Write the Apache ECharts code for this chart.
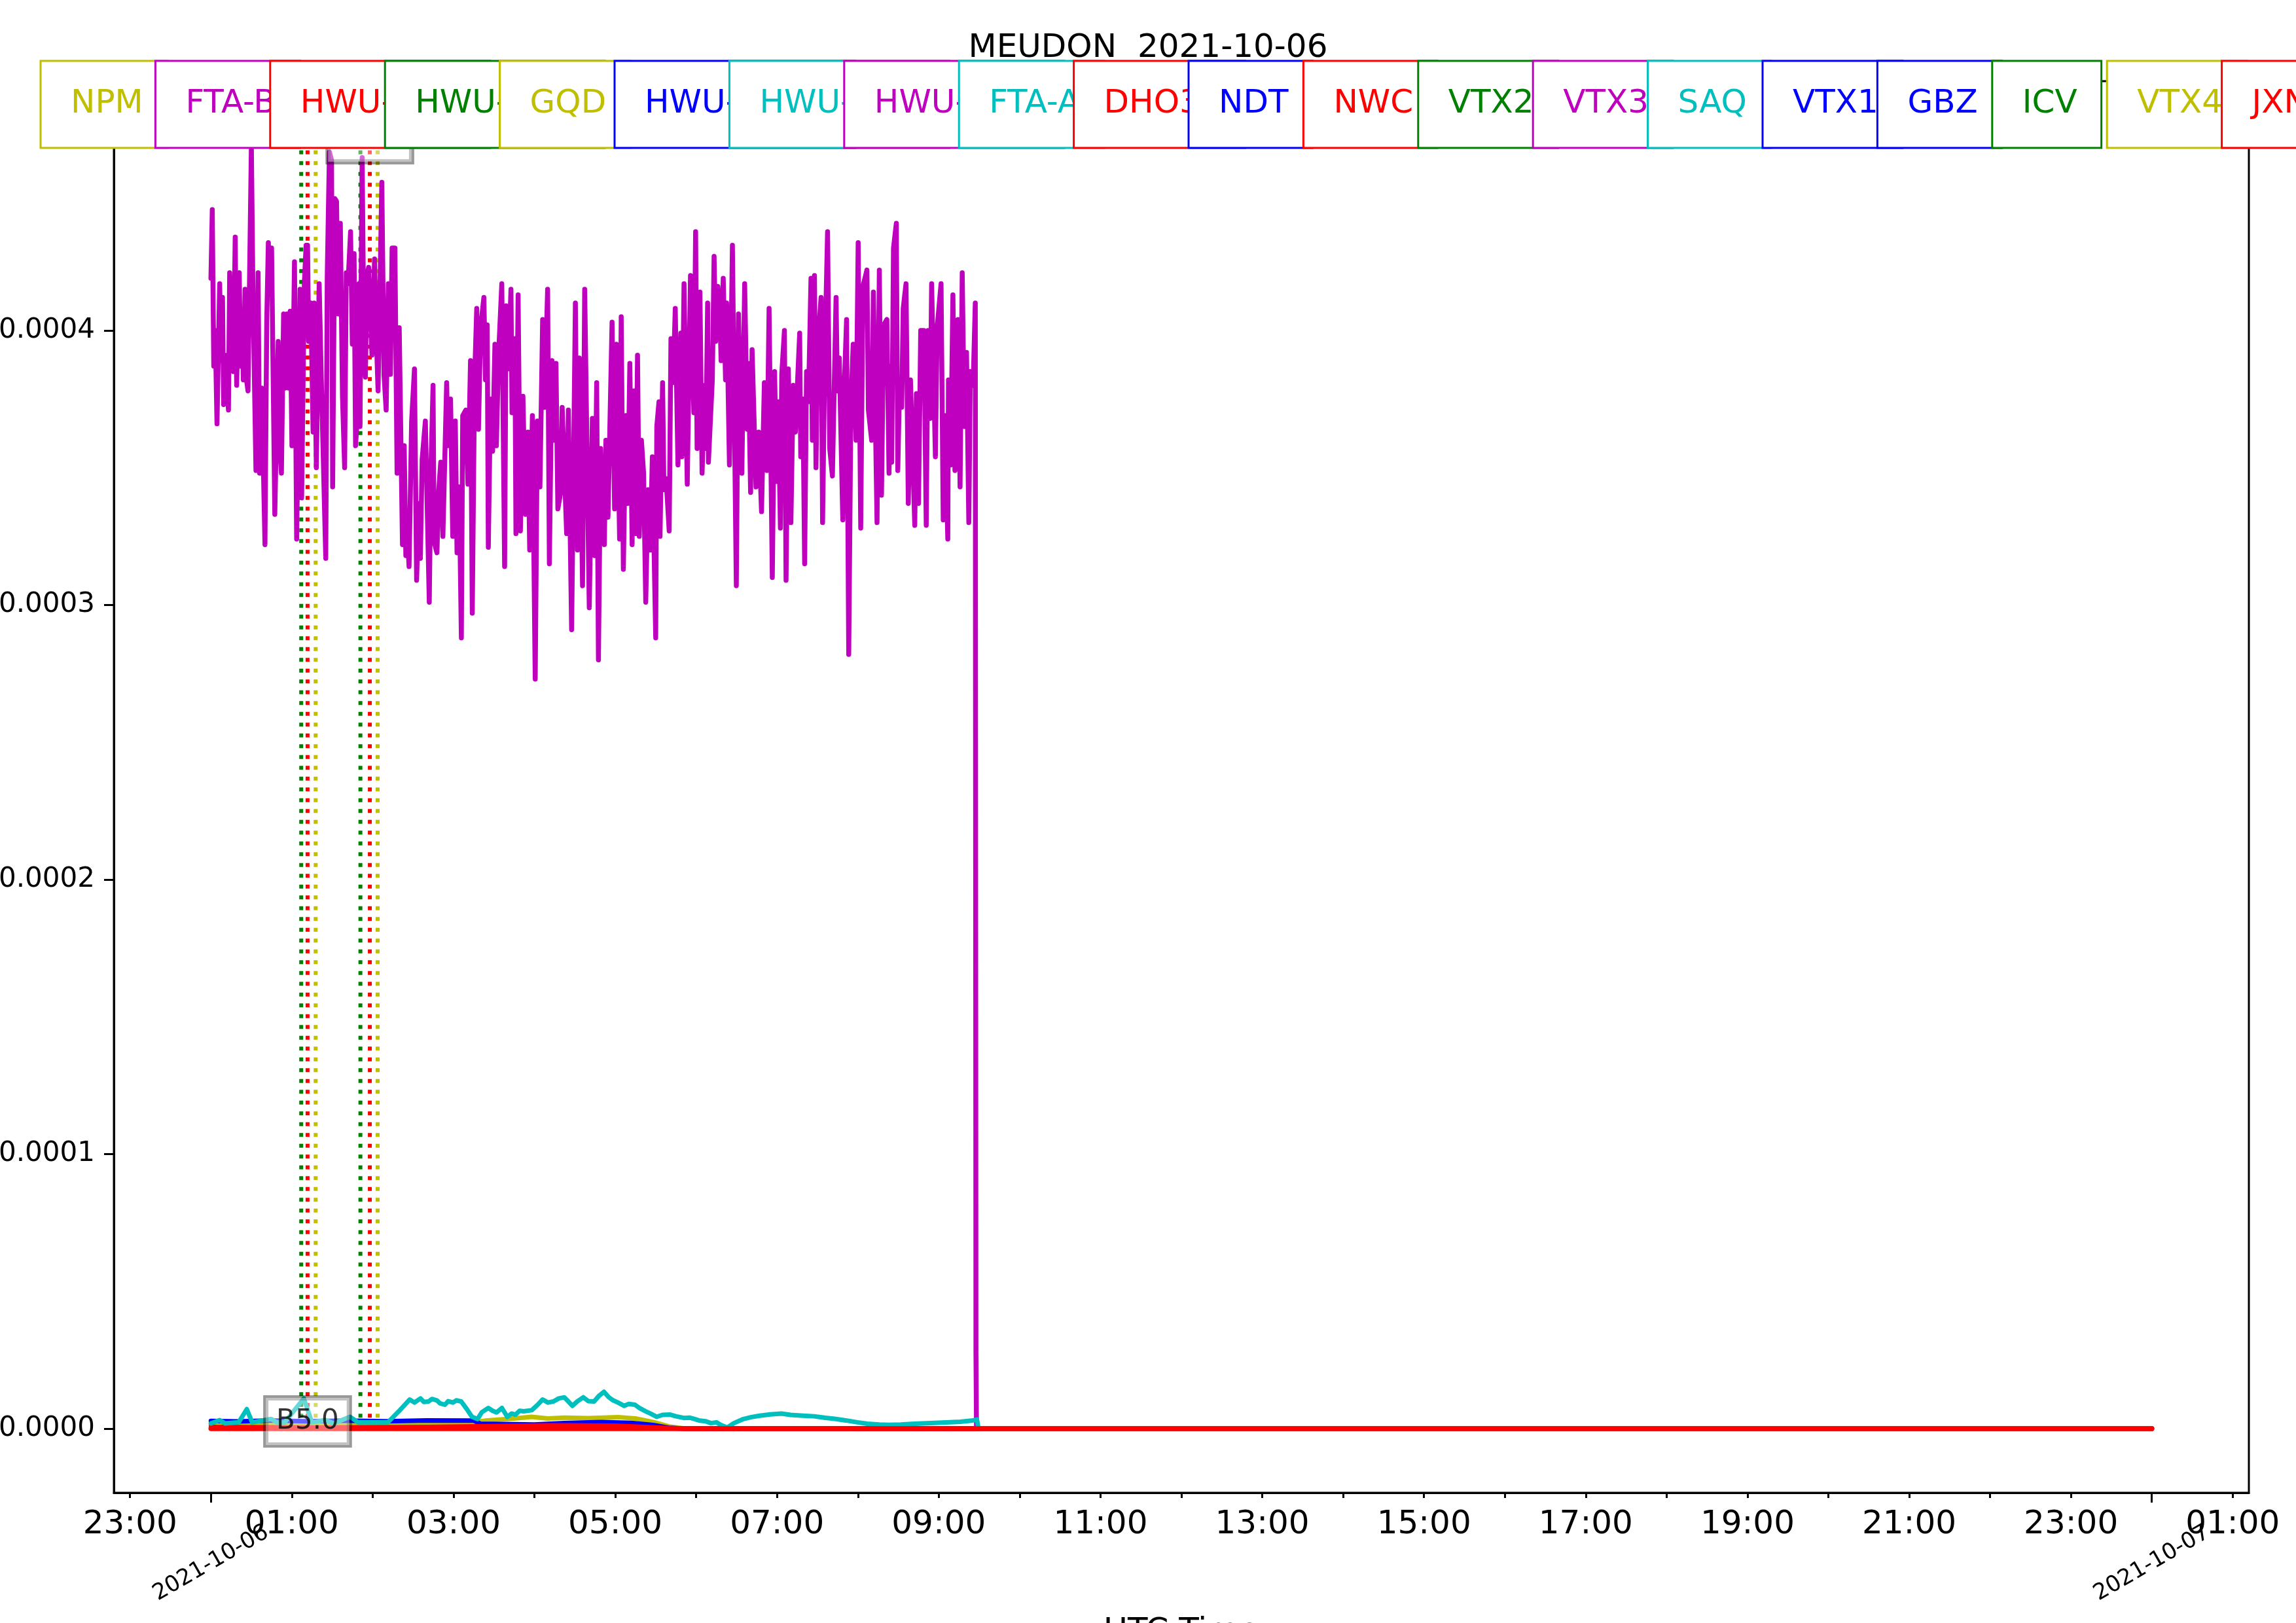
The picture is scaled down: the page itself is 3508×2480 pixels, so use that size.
<!DOCTYPE html>
<html><head><meta charset="utf-8">
<script src="https://cdn.jsdelivr.net/npm/echarts@6/dist/echarts.min.js"></script>
<style>html,body{margin:0;padding:0;background:#fff}#c{width:3508px;height:2480px}</style>
</head><body><div id="c"></div>
<script>
// ---------------- data (x in minutes after 2021-10-06 00:00 UTC, y in units of 1e-4) ----------------
const chartTitle = 'MEUDON  2021-10-06';
const stationNames = ['NPM','FTA-B','HWU-18.3','HWU-20.9','GQD','HWU-21.75','HWU-22.6','HWU-23.4','FTA-A','DHO38','NDT','NWC','VTX2','VTX3','SAQ','VTX1','GBZ','ICV','VTX4','JXN'];
const stationColors = ['#bfbf00','#bf00bf','#ff0000','#008000','#bfbf00','#0000ff','#00bfbf','#bf00bf','#00bfbf','#ff0000','#0000ff','#ff0000','#008000','#bf00bf','#00bfbf','#0000ff','#0000ff','#008000','#bfbf00','#ff0000'];

const minorTickMinutes = [-60,0,60,120,180,240,300,360,420,480,540,600,660,720,780,840,900,960,1020,1080,1140,1200,1260,1320,1380,1440,1500];
const hourLabelMinutes = [-60,60,180,300,420,540,660,780,900,1020,1140,1260,1380,1500];
const dayTickMinutes = [0,1440];
const dayLabels = ['2021-10-06','2021-10-07'];
const yTickValues = [0,1,2,3,4];

const flareStart = [67.0,110.9];
const flarePeak  = [71.7,117.9];
const flareEnd   = [77.7,123.7];
const flareClasses = ['B5.0','B5.4'];
const flareLabelY = [0.026,4.70];

const ftaB = [[0,4.19],[1,4.44],[2.1,3.87],[3.2,4.00],[4.5,3.66],[6.5,4.17],[7.4,3.89],[8.6,4.12],[9.4,3.73],[10.7,3.91],[11.5,3.83],[13,3.71],[13.9,4.21],[15.1,3.89],[15.9,4.19],[16.7,3.85],[18,4.34],[19.1,3.80],[21,4.21],[22,3.87],[23.2,4.02],[24,3.82],[25.3,4.15],[26.4,3.82],[27.5,3.78],[30,4.67],[31.2,4.13],[33.4,3.49],[35,4.21],[36.1,3.48],[37.7,3.79],[40.1,3.22],[41.4,4.03],[42.6,4.32],[43.7,4.16],[45,4.30],[47.4,3.33],[49.9,3.96],[51.2,3.56],[52.3,3.48],[53.9,4.06],[55,3.79],[56.3,4.06],[57.5,3.79],[58.8,4.07],[60.1,3.58],[62,4.25],[63.6,3.24],[66.1,4.15],[67.3,3.39],[69.3,4.17],[70.6,4.31],[71.7,4.31],[72.5,3.96],[74.1,4.10],[75.8,3.63],[76.6,4.10],[78.2,3.50],[80.3,4.17],[81.9,3.82],[85.2,3.17],[86.3,4.20],[87.9,4.65],[89.5,4.62],[90.3,3.43],[92,4.48],[93.2,4.47],[94.4,4.06],[96,4.39],[97.6,3.76],[99.2,3.50],[100.4,4.21],[101.7,4.17],[103.6,4.36],[104.9,3.95],[106.2,4.28],[107.3,3.58],[108.5,3.67],[109.8,4.17],[110.6,3.65],[112.2,4.63],[113.3,4.06],[114.6,3.83],[115.8,4.20],[117,4.23],[119.5,3.91],[121.4,4.26],[122.7,3.98],[124,3.78],[125.1,4.06],[126.8,4.54],[128.4,3.84],[130,3.71],[131.6,4.17],[133.2,3.84],[134.4,4.30],[136.5,4.30],[138.1,3.48],[139.7,4.01],[142.1,3.22],
[143.4,3.58],[144.6,3.18],[145.4,3.29],[147,3.14],[148.9,3.67],[151,3.86],[152.6,3.09],[154.3,3.37],[155.4,3.17],[156.7,3.53],[159.1,3.67],[162,3.01],[163.2,3.49],[164.8,3.80],[165.6,3.23],[167.7,3.19],[168.9,3.41],[170.5,3.52],[172.1,3.25],[174.9,3.81],[175.8,3.58],[177.8,3.75],[179.4,3.25],[181.3,3.67],[182.6,3.19],[184.2,3.43],[185.8,2.88],[186.8,3.69],[189.1,3.71],[190.7,3.44],[192.6,3.89],[193.9,2.97],[195.6,3.82],[197.2,4.08],[198.5,3.64],[200.1,4.01],[202.5,4.12],[203.7,3.82],[205,4.02],[205.8,3.21],[207.4,3.75],[209,3.56],[210.7,3.95],[211.8,3.58],[213.4,3.91],[215.8,4.17],[217.9,3.14],[219,4.09],[220.7,3.86],[222.6,4.15],[223.4,3.70],[225.5,3.97],[226.3,3.26],[227.9,4.13],[229.6,3.27],[231.5,3.76],[233.3,3.33],[235.2,3.63],[236.5,3.20],[238.5,3.69],[240.6,2.73],[242.2,3.67],[244.1,3.43],[246.1,4.04],[247.4,3.72],[249.8,4.15],[251.1,3.15],[253,3.89],[254.2,3.60],[256,3.88],[257.4,3.35],[259.5,3.41],[260.6,3.72],[263.9,3.26],[265.2,3.71],[267.6,2.91],[270.4,4.10],[272,3.20],[273.3,3.90],[275.7,3.07],[277.3,4.15],[280.7,2.99],[283,3.68],[284.6,3.18],[286.2,3.81],[287.5,2.80],
[289.1,3.57],[290.3,3.27],[291.9,3.22],[293,3.60],[294.6,3.32],[297.6,4.03],[299.5,3.35],[300.8,3.95],[303.2,3.24],[304.4,4.05],[306,3.13],[307.8,3.69],[309.2,3.37],[310.8,3.88],[312.5,3.22],[313.8,3.78],[315,3.26],[316.5,3.91],[317.8,3.25],[319.4,3.60],[321,3.48],[322.6,3.01],[324.3,3.42],[325.9,3.20],[327.5,3.54],[330,2.88],[330.8,3.65],[332.4,3.74],[333.2,3.25],[335.1,3.81],[336.1,3.42],[337.7,3.46],[340,3.27],[341.3,3.97],[342.9,3.81],[344.5,4.08],[346.5,3.51],[348.6,3.99],[349.4,3.54],[351,4.17],[353.4,3.44],[355.8,4.20],[358.3,3.70],[359.6,4.36],[360.7,3.57],[362.8,4.14],[364.4,3.48],[366.4,3.80],[367.2,3.57],[368.5,4.10],[369.1,3.52],[372,3.82],[373.3,4.27],[374.5,3.96],[376.1,4.16],[377.7,4.05],[378.5,3.89],[380.1,4.19],[381.8,3.82],[382.6,4.10],[384.7,3.51],[386.9,4.31],[389.8,3.07],[391.4,4.06],[393.9,3.48],[396,4.17],[397.9,3.64],[398.7,3.88],[400.4,3.41],[401.5,3.93],[404.4,3.43],[406.4,3.63],[408.5,3.34],[410.6,3.81],[412.5,3.49],[414.1,4.08],[416.5,3.10],[418.2,3.85],[419.8,3.45],[420.9,3.74],[422.5,3.28],[423.5,3.84],[425.5,4.00],[426.7,3.09],[428.4,3.86],[430.3,3.30],[432,3.80],[433.6,3.63],
[436.8,3.99],[437.6,3.54],[439.2,3.75],[440.5,3.15],[441.9,3.85],[443.3,3.74],[445.2,4.19],[446.2,3.60],[447.8,4.20],[448.9,3.50],[450.2,3.95],[452.7,4.12],[453.8,3.30],[455.4,3.89],[457.5,4.36],[459.1,3.57],[461.1,3.47],[463.8,4.12],[464.8,3.78],[466.2,3.90],[468.8,3.31],[470,3.81],[471.6,4.04],[473.2,2.82],[474.8,3.72],[476.5,3.95],[478.6,3.60],[480.2,4.32],[482.1,3.28],[483.7,4.16],[486.7,4.22],[487.8,3.71],[490.2,3.60],[491.5,4.14],[494.2,3.30],[495.9,4.22],[497.5,3.40],[499.1,4.02],[501.5,4.04],[503.1,3.48],[504.4,3.87],[505.1,3.52],[506.4,4.30],[508.5,4.39],[509.6,3.49],[510.9,3.80],[512.5,3.72],[513.6,4.08],[515.7,4.17],[517.4,3.37],[519,3.82],[522.2,3.29],[523.4,3.77],[525,3.37],[526.6,4.00],[529,4.00],[530.7,3.29],[532,4.00],[533.6,3.68],[534.7,4.17],[537.5,3.54],[538.8,4.01],[541.7,4.17],[543.3,3.31],[544.4,3.69],[546.7,3.24],[547.2,3.82],[548.8,3.51],[550.5,4.13],[552,3.49],[554.2,4.04],[555.8,3.43],[557.4,4.21],[559,3.65],[560.6,3.92],[562.3,3.30],[563.4,3.85],[565.5,3.80],[567.1,4.10],[567.6,0.27],[568,0],[1440,0]];

const saq = [[0,0.019],[6.5,0.031],[10.5,0.019],[20.6,0.023],[26.6,0.071],[30.6,0.023],[44.7,0.035],[48.8,0.023],[54.8,0.023],[68.9,0.110],[74.9,0.023],[85,0.031],[91,0.019],[103.1,0.043],[109.2,0.023],[117.2,0.023],[131.3,0.023],[139.4,0.063],[147.4,0.106],[151,0.095],[155.5,0.110],[158,0.097],[161.5,0.099],[164,0.108],[167.6,0.103],[170,0.092],[173.6,0.087],[176,0.100],[179.6,0.095],[182,0.103],[185.7,0.099],[190,0.070],[193.7,0.043],[197.8,0.035],[201,0.060],[205.8,0.075],[209,0.065],[211.9,0.059],[215.9,0.075],[219.9,0.043],[223,0.055],[226,0.051],[229,0.065],[232,0.063],[238,0.067],[242,0.085],[246.1,0.106],[250,0.095],[254.1,0.099],[258,0.110],[262.2,0.114],[265,0.100],[268.2,0.083],[272,0.100],[276.3,0.114],[280,0.100],[284.3,0.099],[288,0.120],[291.6,0.134],[295,0.115],[298.4,0.103],[302,0.095],[306.5,0.083],[310,0.090],[314.6,0.087],[318,0.075],[322.6,0.063],[326,0.055],[330.7,0.043],[335,0.050],[340.7,0.051],[345,0.045],[350.8,0.039],[355,0.040],[358.9,0.035],[362,0.030],[366.9,0.027],[371,0.020],[375,0.023],[379,0.012],[383,0.004],[388,0.020],[395.1,0.035],[401,0.042],[407.2,0.047],[415,0.052],[423.3,0.055],[430,0.050],[439.4,0.047],[447.5,0.045],[455,0.040],[463.6,0.035],[471,0.030],[479.7,0.023],[487,0.018],[495.8,0.015],[503,0.014],[511.9,0.015],[520,0.017],[528,0.019],[537,0.021],[548.1,0.023],[556,0.025],[564.2,0.029],[568.3,0.033],[569.5,0],[1440,0]];
const npm = [[0,0.020],[60,0.019],[120,0.018],[190,0.020],[205,0.030],[222,0.036],[238,0.043],[250,0.037],[262,0.040],[280,0.038],[302,0.042],[315,0.037],[328,0.024],[340,0.008],[352,0],[1440,0]];
const hwuBlue = [[0,0.028],[20,0.026],[45,0.030],[70,0.027],[100,0.029],[130,0.027],[160,0.030],[195,0.029],[200,0.018],[240,0.015],[262,0.020],[290,0.024],[312,0.021],[328,0.013],[340,0.003],[352,0],[1440,0]];
const vtx3 = [[0,0.014],[90,0.013],[200,0.012],[300,0.008],[340,0.002],[352,0],[1440,0]];
const dho38 = [[0,0.006],[80,0.004],[160,0.006],[250,0.012],[300,0.011],[335,0.003],[352,0],[1440,0]];
const jxn = [[0,0],[1440,0]];

// ---------------- chart ----------------
const FONT = '"DejaVu Sans", sans-serif';
const chart = echarts.init(document.getElementById('c'), null, {renderer: 'canvas'});

function pad2(n){ return (n < 10 ? '0' : '') + n; }
function hourLabel(v){ const h = ((Math.round(v/60) % 24) + 24) % 24; return pad2(h) + ':00'; }

function lineSeries(data, color, width){
  return {type:'line', data, symbol:'none', showSymbol:false, silent:true, animation:false,
    lineStyle:{color, width, join:'round', cap:'round'}};
}
function vLine(x, color){
  return {type:'line', data:[[x,0.04],[x,5.2]], symbol:'none', silent:true, animation:false, z:1,
    lineStyle:{color, width:6, type:[6,10.5], cap:'butt'}};
}

const series = [];
flareStart.forEach(x => series.push(vLine(x, '#008000')));
flarePeak.forEach(x => series.push(vLine(x, '#ff0000')));
flareEnd.forEach(x => series.push(vLine(x, '#bfbf00')));
series.push(lineSeries(ftaB, '#bf00bf', 7.5));
series.push(lineSeries(vtx3, '#bf00bf', 7));
series.push(lineSeries(npm, '#bfbf00', 7));
series.push(lineSeries(hwuBlue, '#0000ff', 7));
series.push(lineSeries(dho38, '#ff0000', 7));
series.push(lineSeries(saq, '#00bfbf', 7));
series.push(lineSeries(jxn, '#ff0000', 7.5));
series.push({
  type:'scatter', data: flarePeak.map((x,i) => [x, flareLabelY[i]]), symbolSize:1, silent:true, animation:false, z:5,
  itemStyle:{color:'rgba(0,0,0,0)'},
  label:{show:true, position:'inside', formatter: p => flareClasses[p.dataIndex], fontSize:42, fontFamily:FONT, color:'#000',
    backgroundColor:'rgba(255,255,255,0.5)', borderColor:'rgba(0,0,0,0.5)', borderWidth:4, padding:[12,16], lineHeight:48}
});

// legend boxes (matplotlib-like, one box per station, each overlapping the previous)
const mctx = document.createElement('canvas').getContext('2d');
mctx.font = '50px "DejaVu Sans"';
const graphics = [];
const legendLeft0 = 62, legendStep = 175.4, legendTop = 93, legendH = 133;
stationNames.forEach((name, i) => {
  const x = legendLeft0 + i * legendStep;
  const w = mctx.measureText(name).width + 83;
  graphics.push({type:'rect', z:100 + i*2, silent:true,
    shape:{x:x, y:legendTop, width:w, height:legendH},
    style:{fill:'#fff', stroke:stationColors[i], lineWidth:3}});
  graphics.push({type:'text', z:101 + i*2, silent:true,
    style:{text:name, x:x + 46, y:legendTop + legendH/2, fill:stationColors[i], font:'50px "DejaVu Sans"', verticalAlign:'middle', align:'left'}});
});

const option = {
  animation:false,
  backgroundColor:'#fff',
  title:{text:chartTitle, left:'center', top:44, textStyle:{fontSize:50, fontWeight:'normal', fontFamily:FONT, color:'#000'}},
  grid:{left:174, right:72, top:124, bottom:199, show:true, borderColor:'#000', borderWidth:3, backgroundColor:'transparent',
    containLabel:false, outerBoundsMode:'none'},
  xAxis:[{
    type:'value', min:-72, max:1512, position:'bottom',
    axisLine:{show:true, onZero:false, lineStyle:{color:'#000', width:3}},
    axisTick:{show:true, customValues:minorTickMinutes, length:8, lineStyle:{color:'#000', width:3}},
    axisLabel:{customValues:hourLabelMinutes, formatter:hourLabel, fontSize:50, fontFamily:FONT, color:'#000', margin:24, hideOverlap:false},
    splitLine:{show:false},
    name:'UTC Time', nameLocation:'middle', nameGap:188, nameTextStyle:{fontSize:50, fontFamily:FONT, color:'#000'}
  },{
    type:'value', min:-72, max:1512, position:'bottom',
    axisLine:{show:false, onZero:false},
    axisTick:{show:true, customValues:dayTickMinutes, length:15, lineStyle:{color:'#000', width:3}},
    axisLabel:{customValues:dayTickMinutes, formatter:v => dayLabels[dayTickMinutes.indexOf(v)], rotate:30, align:'center', verticalAlign:'middle',
      margin:108, fontSize:34, fontFamily:FONT, color:'#000', hideOverlap:false},
    splitLine:{show:false}
  }],
  yAxis:{
    type:'value', min:-0.2336, max:4.908,
    axisLine:{show:true, onZero:false, lineStyle:{color:'#000', width:3}},
    axisTick:{show:true, customValues:yTickValues, length:15, lineStyle:{color:'#000', width:3}},
    axisLabel:{customValues:yTickValues, formatter:v => (v*1e-4).toFixed(4), fontSize:42, fontFamily:FONT, color:'#000', margin:29},
    splitLine:{show:false}
  },
  series,
  graphic:{elements:graphics}
};
chart.setOption(option);
</script></body></html>
